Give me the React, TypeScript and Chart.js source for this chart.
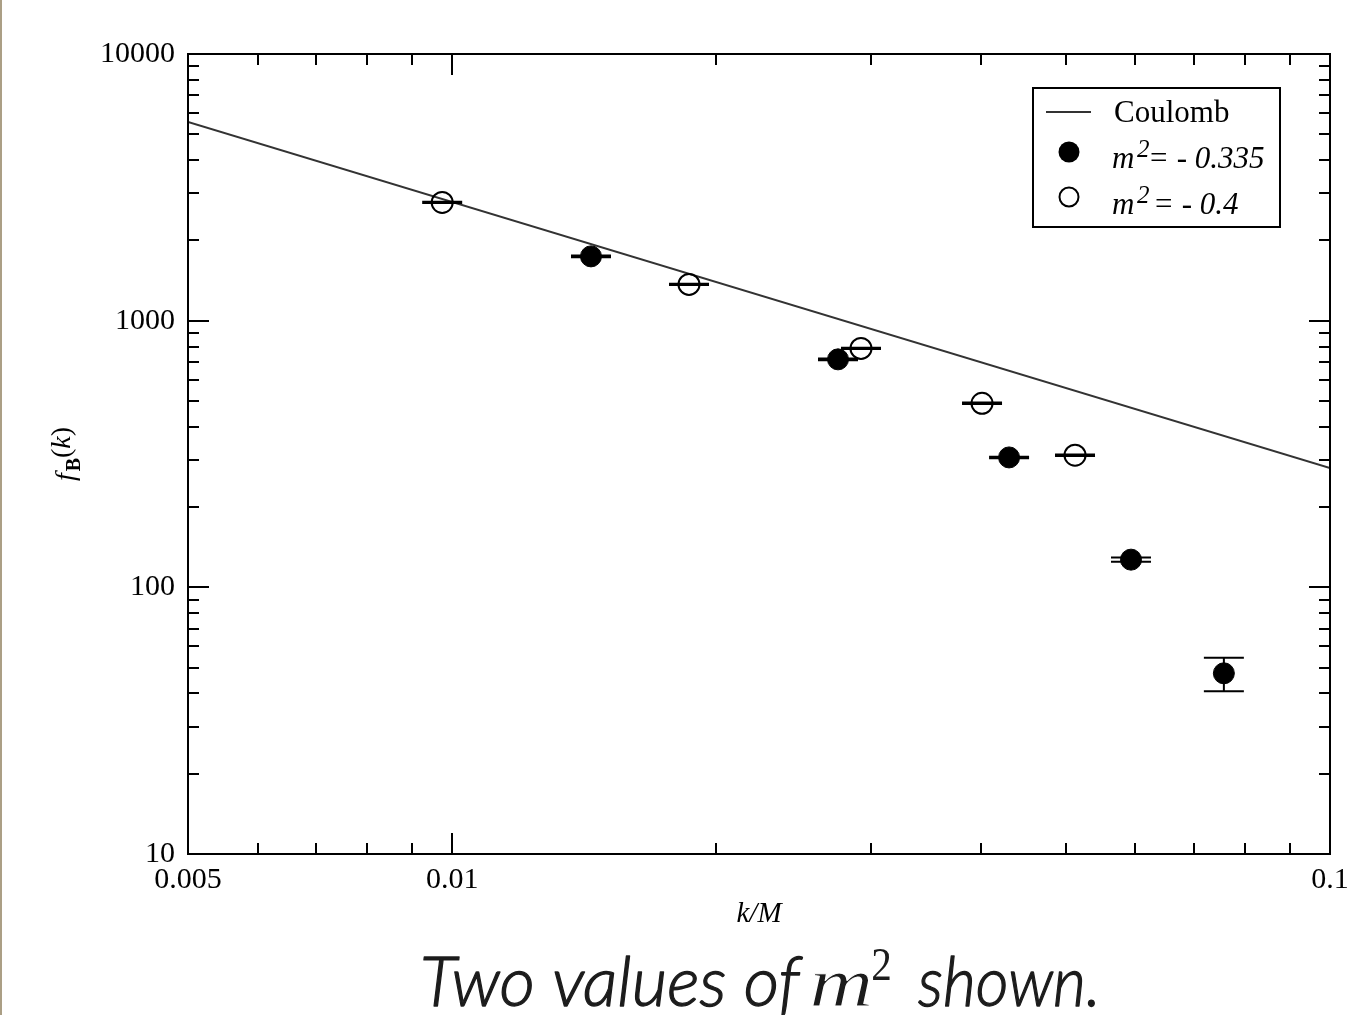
import React, { useEffect, useRef } from 'react';
import { Chart, registerables } from 'chart.js';

Chart.register(...registerables);

// ---- data ----
const coulombK = [0.005, 0.1];
const coulombF = [5560, 280];

const kFilled = [0.01439, 0.02751, 0.04309, 0.05933, 0.0757];
const fFilled = [1742, 716, 307, 127, 47.6];
const errFilled = [12, 5, 2, 2.4, 6.8];

const kOpen = [0.00974, 0.01861, 0.02922, 0.04014, 0.05123];
const fOpen = [2776, 1368, 787, 490, 313];
const errOpen = [15, 8, 4, 3, 2];

const xTickValues = [0.005, 0.01, 0.1];
const xTickLabels = ['0.005', '0.01', '0.1'];
const yTickValues = [10, 100, 1000, 10000];
const yTickLabels = ['10', '100', '1000', '10000'];

const legendCoulomb = 'Coulomb';
const legendFilled = '= - 0.335';
const legendOpen = '= - 0.4';
const xTitle = 'k/M';
const captionA = 'Two values of';
const captionB = 'shown.';

const X_MIN = 0.005;
const X_MAX = 0.1;
const Y_MIN = 10;
const Y_MAX = 10000;

const W = 1348;
const H = 1015;
const AREA_LEFT = 188;
const AREA_TOP = 54;
const AREA_RIGHT = 1330;
const AREA_BOTTOM = 854;

function minorTicks(min: number, max: number): number[] {
  const out: number[] = [];
  for (let e = Math.floor(Math.log10(min)); e <= Math.ceil(Math.log10(max)); e++) {
    for (let m = 1; m <= 9; m++) {
      const v = m * Math.pow(10, e);
      if (v >= min * 0.9999 && v <= max * 1.0001) out.push(v);
    }
  }
  return out;
}

const SERIF = '"Liberation Serif", "DejaVu Serif", serif';
const CAPTION_SANS = 'italic 300 70px Lato, "Open Sans", sans-serif';

function drawFitted(
  ctx: CanvasRenderingContext2D,
  text: string,
  font: string,
  x: number,
  baseline: number,
  width: number,
  strokeW = 0,
  strokeColor = ''
) {
  ctx.save();
  ctx.font = font;
  ctx.textAlign = 'left';
  ctx.textBaseline = 'alphabetic';
  const m = ctx.measureText(text);
  const w = (m.actualBoundingBoxRight ?? m.width) + (m.actualBoundingBoxLeft ?? 0);
  const sx = w > 0 ? width / w : 1;
  ctx.translate(x, baseline);
  ctx.scale(sx, 1);
  ctx.fillText(text, m.actualBoundingBoxLeft ?? 0, 0);
  if (strokeW > 0) {
    ctx.lineWidth = strokeW;
    ctx.lineJoin = 'round';
    ctx.strokeStyle = strokeColor || (ctx.fillStyle as string);
    ctx.strokeText(text, m.actualBoundingBoxLeft ?? 0, 0);
  }
  ctx.restore();
}

const decorPlugin = {
  id: 'decor',
  afterDatasetsDraw(chart: any) {
    const { ctx, scales } = chart;
    const x = scales.x;
    const y = scales.y;
    ctx.save();
    ctx.strokeStyle = '#000';
    ctx.lineWidth = 2;
    const drawErr = (ks: number[], fs: number[], es: number[]) => {
      ks.forEach((k, i) => {
        const px = x.getPixelForValue(k);
        const top = y.getPixelForValue(fs[i] + es[i]);
        const bot = y.getPixelForValue(fs[i] - es[i]);
        ctx.beginPath();
        ctx.moveTo(px, top);
        ctx.lineTo(px, bot);
        ctx.moveTo(px - 20, top);
        ctx.lineTo(px + 20, top);
        ctx.moveTo(px - 20, bot);
        ctx.lineTo(px + 20, bot);
        ctx.stroke();
      });
    };
    drawErr(kFilled, fFilled, errFilled);
    drawErr(kOpen, fOpen, errOpen);
    ctx.restore();
  },
  afterDraw(chart: any) {
    const { ctx, chartArea, scales } = chart;
    const x = scales.x;
    const y = scales.y;
    const { left, right, top, bottom } = chartArea;
    ctx.save();

    // frame
    ctx.strokeStyle = '#000';
    ctx.lineWidth = 2;
    ctx.strokeRect(left, top, right - left, bottom - top);

    // ticks (inward on all four sides)
    const MAJ = 21;
    const MIN = 11;
    const isMajor = (v: number) => Math.abs(Math.log10(v) - Math.round(Math.log10(v))) < 1e-6;
    ctx.beginPath();
    minorTicks(X_MIN, X_MAX).forEach((v) => {
      const px = Math.round(x.getPixelForValue(v));
      const len = isMajor(v) ? MAJ : MIN;
      if (px <= left + 1 || px >= right - 1) return;
      ctx.moveTo(px, bottom);
      ctx.lineTo(px, bottom - len);
      ctx.moveTo(px, top);
      ctx.lineTo(px, top + len);
    });
    minorTicks(Y_MIN, Y_MAX).forEach((v) => {
      const py = Math.round(y.getPixelForValue(v));
      const len = isMajor(v) ? MAJ : MIN;
      if (py <= top + 1 || py >= bottom - 1) return;
      ctx.moveTo(left, py);
      ctx.lineTo(left + len, py);
      ctx.moveTo(right, py);
      ctx.lineTo(right - len, py);
    });
    ctx.stroke();

    // legend
    const lx = 1033;
    const ly = 88;
    const lw = 247;
    const lh = 139;
    ctx.fillStyle = '#fff';
    ctx.fillRect(lx, ly, lw, lh);
    ctx.strokeStyle = '#000';
    ctx.lineWidth = 2;
    ctx.strokeRect(lx, ly, lw, lh);

    ctx.strokeStyle = '#333';
    ctx.lineWidth = 2;
    ctx.beginPath();
    ctx.moveTo(1046, 112);
    ctx.lineTo(1091, 112);
    ctx.stroke();

    ctx.fillStyle = '#000';
    ctx.textAlign = 'left';
    ctx.textBaseline = 'alphabetic';
    ctx.font = `31px ${SERIF}`;
    ctx.fillText(legendCoulomb, 1114, 122);

    ctx.beginPath();
    ctx.arc(1069, 152, 10.5, 0, Math.PI * 2);
    ctx.fill();

    ctx.beginPath();
    ctx.arc(1069, 197, 9.5, 0, Math.PI * 2);
    ctx.lineWidth = 2;
    ctx.strokeStyle = '#000';
    ctx.stroke();

    const drawM2 = (bx: number, base: number, rest: string, restX: number) => {
      ctx.font = `italic 31px ${SERIF}`;
      ctx.fillText('m', bx, base);
      ctx.font = `italic 25px ${SERIF}`;
      ctx.fillText('2', bx + 25, base - 11);
      ctx.font = `italic 31px ${SERIF}`;
      ctx.fillText(rest, restX, base);
    };
    drawM2(1112, 168, legendFilled, 1148);
    drawM2(1112, 214, legendOpen, 1153);

    // y axis title: f_B(k), rotated
    ctx.save();
    ctx.translate(74, 454);
    ctx.rotate(-Math.PI / 2);
    const partF = 'f';
    const partB = 'B';
    ctx.font = `italic 28px ${SERIF}`;
    const wF = ctx.measureText(partF).width;
    ctx.font = `bold 20px ${SERIF}`;
    const wB = ctx.measureText(partB).width;
    ctx.font = `28px ${SERIF}`;
    const wP = ctx.measureText('(').width;
    ctx.font = `italic 28px ${SERIF}`;
    const wK = ctx.measureText('k').width;
    ctx.font = `28px ${SERIF}`;
    const wQ = ctx.measureText(')').width;
    const total = wF + 2 + wB + wP + wK + wQ;
    let cx = -total / 2;
    ctx.fillStyle = '#000';
    ctx.font = `italic 28px ${SERIF}`;
    ctx.fillText(partF, cx, 0);
    cx += wF + 2;
    ctx.font = `bold 20px ${SERIF}`;
    ctx.fillText(partB, cx, 6);
    cx += wB;
    ctx.font = `28px ${SERIF}`;
    ctx.fillText('(', cx, -4);
    cx += wP;
    ctx.font = `italic 28px ${SERIF}`;
    ctx.fillText('k', cx, -4);
    cx += wK;
    ctx.font = `28px ${SERIF}`;
    ctx.fillText(')', cx, -4);
    ctx.restore();

    // x axis title
    ctx.fillStyle = '#000';
    ctx.font = `italic 29px ${SERIF}`;
    ctx.textAlign = 'center';
    ctx.fillText(xTitle, (left + right) / 2, 922);

    // caption
    ctx.fillStyle = '#1c1c1c';
    drawFitted(ctx, captionA, CAPTION_SANS, 423, 1006, 380, 1.3);
    drawFitted(ctx, 'm', `italic 70px ${SERIF}`, 812, 1006, 58, 1, '#ffffff');
    drawFitted(ctx, '2', `46px ${SERIF}`, 873, 980, 17);
    drawFitted(ctx, captionB, CAPTION_SANS, 918, 1006, 177, 1.3);

    ctx.restore();
  },
};

export default function App() {
  const canvasRef = useRef<HTMLCanvasElement | null>(null);

  useEffect(() => {
    const canvas = canvasRef.current;
    if (!canvas) return;
    const filledData = kFilled.map((k, i) => ({ x: k, y: fFilled[i] }));
    const openData = kOpen.map((k, i) => ({ x: k, y: fOpen[i] }));
    const coulombData = coulombK.map((k, i) => ({ x: k, y: coulombF[i] }));

    const chart = new Chart(canvas, {
      type: 'scatter',
      data: {
        datasets: [
          {
            label: 'm2 = -0.335',
            data: filledData,
            showLine: false,
            pointRadius: 10.5,
            pointHoverRadius: 10.5,
            backgroundColor: '#000',
            borderColor: '#000',
            borderWidth: 1,
          },
          {
            label: 'm2 = -0.4',
            data: openData,
            showLine: false,
            pointRadius: 10.5,
            pointHoverRadius: 10.5,
            backgroundColor: 'rgba(0,0,0,0)',
            borderColor: '#000',
            borderWidth: 2,
          },
          {
            label: 'Coulomb',
            data: coulombData,
            showLine: true,
            pointRadius: 0,
            borderColor: '#333',
            borderWidth: 2,
            backgroundColor: '#333',
          },
        ],
      },
      options: {
        responsive: false,
        animation: false,
        devicePixelRatio: 1,
        events: [],
        layout: { padding: { left: 0, top: AREA_TOP, right: W - AREA_RIGHT, bottom: 0 } },
        plugins: {
          legend: { display: false },
          tooltip: { enabled: false },
          title: { display: false },
        },
        scales: {
          x: {
            type: 'logarithmic',
            position: 'bottom',
            min: X_MIN,
            max: X_MAX,
            grid: { display: false, drawTicks: false },
            border: { display: false },
            afterBuildTicks: (scale: any) => {
              scale.ticks = xTickValues.map((v) => ({ value: v, major: true }));
            },
            afterFit: (scale: any) => {
              scale.height = H - AREA_BOTTOM;
              scale.paddingLeft = 0;
              scale.paddingRight = 0;
            },
            ticks: {
              autoSkip: false,
              maxRotation: 0,
              minRotation: 0,
              padding: 8,
              color: '#000',
              font: { family: SERIF, size: 30 },
              callback: (value: any) => {
                const i = xTickValues.findIndex((v) => Math.abs(v - Number(value)) < 1e-9);
                return i >= 0 ? xTickLabels[i] : '';
              },
            },
          },
          y: {
            type: 'logarithmic',
            position: 'left',
            min: Y_MIN,
            max: Y_MAX,
            grid: { display: false, drawTicks: false },
            border: { display: false },
            afterBuildTicks: (scale: any) => {
              scale.ticks = yTickValues.map((v) => ({ value: v, major: true }));
            },
            afterFit: (scale: any) => {
              scale.width = AREA_LEFT;
              scale.paddingTop = 0;
              scale.paddingBottom = 0;
            },
            ticks: {
              autoSkip: false,
              padding: 13,
              color: '#000',
              font: { family: SERIF, size: 30 },
              callback: (value: any) => {
                const i = yTickValues.findIndex((v) => Math.abs(v - Number(value)) < 1e-9);
                return i >= 0 ? yTickLabels[i] : '';
              },
            },
          },
        },
      },
      plugins: [decorPlugin],
    } as any);

    return () => {
      chart.destroy();
    };
  }, []);

  return (
    <div
      style={{
        position: 'fixed',
        left: 0,
        top: 0,
        width: W,
        height: H,
        background: '#fff',
        overflow: 'hidden',
      }}
    >
      <canvas ref={canvasRef} width={W} height={H} style={{ display: 'block', width: W, height: H }} />
      <div style={{ position: 'absolute', left: 0, top: 0, width: 2, height: H, background: '#ab9f85' }} />
    </div>
  );
}
